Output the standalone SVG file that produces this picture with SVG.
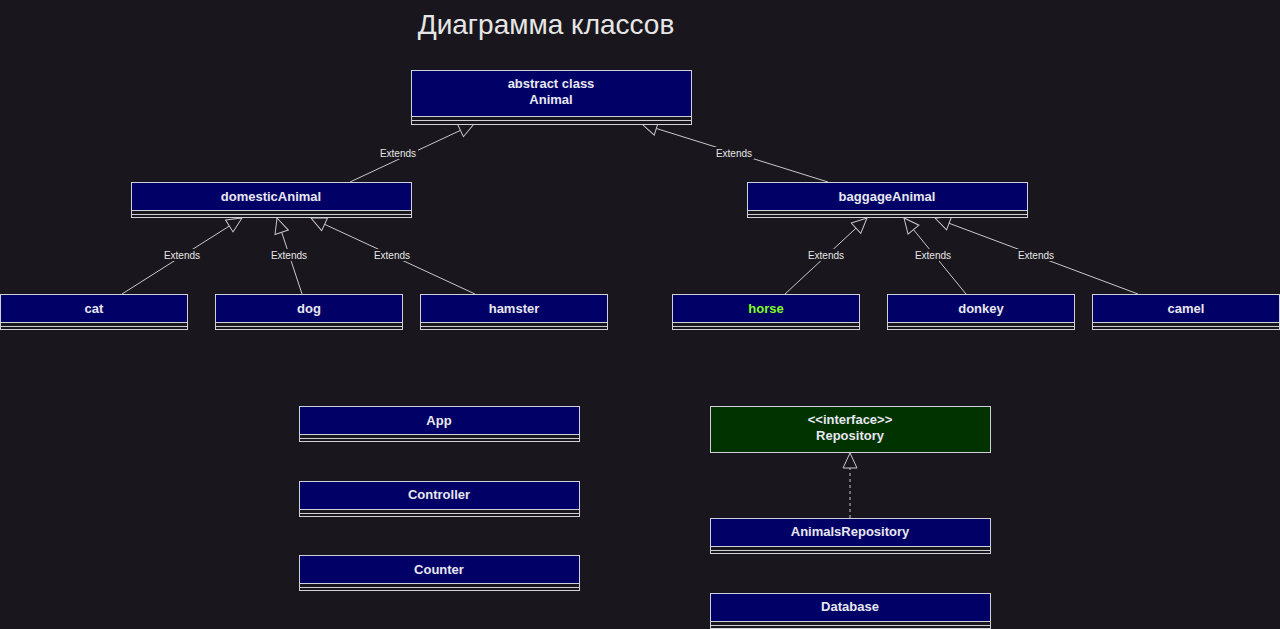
<svg xmlns="http://www.w3.org/2000/svg" width="1280" height="629" viewBox="0 0 1280 629">
<style>
.bg{fill:#19171d}
.hd{fill:#000066;stroke:#d0d0d8;stroke-width:1}
.ifc{fill:#003300;stroke:#d0d0d8;stroke-width:1}
.st{fill:#19171d;stroke:#d0d0d8;stroke-width:1}
.sep{stroke:#d0d0d8;stroke-width:1}
.t{font-family:"Liberation Sans",Arial,sans-serif;font-weight:bold;font-size:13px;fill:#e8e8f0;text-anchor:middle}
.title{font-family:"Liberation Sans",Arial,sans-serif;font-size:28px;fill:#e6e6e6;text-anchor:middle}
.ln{stroke:#c8c8c8;stroke-width:1;fill:none}
.lb{font-family:"Liberation Sans",Arial,sans-serif;font-size:10px;fill:#e6e6e6;text-anchor:middle}
.lbg{fill:#19171d}
</style>
<defs>
<marker id="tri" markerUnits="userSpaceOnUse" markerWidth="18" markerHeight="18" refX="16" refY="8" orient="auto" viewBox="0 0 18 16">
<path d="M1,1 L16,8 L1,15 Z" fill="#19171d" stroke="#c8c8c8" stroke-width="1"/>
</marker>
</defs>
<rect class="bg" x="0" y="0" width="1280" height="629"/>
<text class="title" x="546" y="34">Диаграмма классов</text>

<g id="connectors">
<line class="ln" x1="350" y1="182" x2="474" y2="124" marker-end="url(#tri)"/>
<line class="ln" x1="828" y1="182" x2="642" y2="124" marker-end="url(#tri)"/>
<line class="ln" x1="122" y1="294" x2="242" y2="218" marker-end="url(#tri)"/>
<line class="ln" x1="302" y1="294" x2="277" y2="218" marker-end="url(#tri)"/>
<line class="ln" x1="475" y1="294" x2="311" y2="218" marker-end="url(#tri)"/>
<line class="ln" x1="785" y1="294" x2="867" y2="218" marker-end="url(#tri)"/>
<line class="ln" x1="966" y1="294" x2="904" y2="218" marker-end="url(#tri)"/>
<line class="ln" x1="1138" y1="294" x2="935" y2="218" marker-end="url(#tri)"/>
<line class="ln" x1="850" y1="518" x2="850" y2="453" stroke-dasharray="3,3" marker-end="url(#tri)"/>
<rect class="lbg" x="378" y="147" width="40" height="12"/><text class="lb" x="398" y="157">Extends</text>
<rect class="lbg" x="714" y="147" width="40" height="12"/><text class="lb" x="734" y="157">Extends</text>
<rect class="lbg" x="162" y="249" width="40" height="12"/><text class="lb" x="182" y="259">Extends</text>
<rect class="lbg" x="269" y="249" width="40" height="12"/><text class="lb" x="289" y="259">Extends</text>
<rect class="lbg" x="372" y="249" width="40" height="12"/><text class="lb" x="392" y="259">Extends</text>
<rect class="lbg" x="806" y="249" width="40" height="12"/><text class="lb" x="826" y="259">Extends</text>
<rect class="lbg" x="913" y="249" width="40" height="12"/><text class="lb" x="933" y="259">Extends</text>
<rect class="lbg" x="1016" y="249" width="40" height="12"/><text class="lb" x="1036" y="259">Extends</text>
</g>

<g id="animal">
<rect class="st" x="411.5" y="70.5" width="280" height="54"/>
<rect class="hd" x="411.5" y="70.5" width="280" height="46"/>
<line class="sep" x1="411.5" y1="120.5" x2="691.5" y2="120.5"/>
<text class="t" x="551" y="88">abstract class</text>
<text class="t" x="551" y="104">Animal</text>
</g>

<g id="domesticAnimal">
<rect class="st" x="131.5" y="182.5" width="280" height="35"/>
<rect class="hd" x="131.5" y="182.5" width="280" height="28"/>
<line class="sep" x1="131.5" y1="214.5" x2="411.5" y2="214.5"/>
<text class="t" x="271" y="201">domesticAnimal</text>
</g>

<g id="baggageAnimal">
<rect class="st" x="747.5" y="182.5" width="280" height="35"/>
<rect class="hd" x="747.5" y="182.5" width="280" height="28"/>
<line class="sep" x1="747.5" y1="214.5" x2="1027.5" y2="214.5"/>
<text class="t" x="887" y="201">baggageAnimal</text>
</g>

<g id="cat">
<rect class="st" x="0.5" y="294.5" width="187" height="35"/>
<rect class="hd" x="0.5" y="294.5" width="187" height="28"/>
<line class="sep" x1="0.5" y1="326.5" x2="187.5" y2="326.5"/>
<text class="t" x="94" y="313">cat</text>
</g>

<g id="dog">
<rect class="st" x="215.5" y="294.5" width="187" height="35"/>
<rect class="hd" x="215.5" y="294.5" width="187" height="28"/>
<line class="sep" x1="215.5" y1="326.5" x2="402.5" y2="326.5"/>
<text class="t" x="309" y="313">dog</text>
</g>

<g id="hamster">
<rect class="st" x="420.5" y="294.5" width="187" height="35"/>
<rect class="hd" x="420.5" y="294.5" width="187" height="28"/>
<line class="sep" x1="420.5" y1="326.5" x2="607.5" y2="326.5"/>
<text class="t" x="514" y="313">hamster</text>
</g>

<g id="horse">
<rect class="st" x="672.5" y="294.5" width="187" height="35"/>
<rect class="hd" x="672.5" y="294.5" width="187" height="28"/>
<line class="sep" x1="672.5" y1="326.5" x2="859.5" y2="326.5"/>
<text class="t" x="766" y="313" style="fill:#80ff20">horse</text>
</g>

<g id="donkey">
<rect class="st" x="887.5" y="294.5" width="187" height="35"/>
<rect class="hd" x="887.5" y="294.5" width="187" height="28"/>
<line class="sep" x1="887.5" y1="326.5" x2="1074.5" y2="326.5"/>
<text class="t" x="981" y="313">donkey</text>
</g>

<g id="camel">
<rect class="st" x="1092.5" y="294.5" width="187" height="35"/>
<rect class="hd" x="1092.5" y="294.5" width="187" height="28"/>
<line class="sep" x1="1092.5" y1="326.5" x2="1279.5" y2="326.5"/>
<text class="t" x="1186" y="313">camel</text>
</g>

<g id="app">
<rect class="st" x="299.5" y="406.5" width="280" height="35"/>
<rect class="hd" x="299.5" y="406.5" width="280" height="28"/>
<line class="sep" x1="299.5" y1="438.5" x2="579.5" y2="438.5"/>
<text class="t" x="439" y="425">App</text>
</g>

<g id="controller">
<rect class="st" x="299.5" y="481.5" width="280" height="35"/>
<rect class="hd" x="299.5" y="481.5" width="280" height="28"/>
<line class="sep" x1="299.5" y1="513.5" x2="579.5" y2="513.5"/>
<text class="t" x="439" y="499">Controller</text>
</g>

<g id="counter">
<rect class="st" x="299.5" y="555.5" width="280" height="35"/>
<rect class="hd" x="299.5" y="555.5" width="280" height="28"/>
<line class="sep" x1="299.5" y1="587.5" x2="579.5" y2="587.5"/>
<text class="t" x="439" y="574">Counter</text>
</g>

<g id="repository">
<rect class="ifc" x="710.5" y="406.5" width="280" height="46"/>
<text class="t" x="850" y="424">&lt;&lt;interface&gt;&gt;</text>
<text class="t" x="850" y="440">Repository</text>
</g>

<g id="animalsRepository">
<rect class="st" x="710.5" y="518.5" width="280" height="35"/>
<rect class="hd" x="710.5" y="518.5" width="280" height="28"/>
<line class="sep" x1="710.5" y1="550.5" x2="990.5" y2="550.5"/>
<text class="t" x="850" y="536">AnimalsRepository</text>
</g>

<g id="database">
<rect class="st" x="710.5" y="593.5" width="280" height="35"/>
<rect class="hd" x="710.5" y="593.5" width="280" height="28"/>
<line class="sep" x1="710.5" y1="625.5" x2="990.5" y2="625.5"/>
<text class="t" x="850" y="611">Database</text>
</g>
</svg>
